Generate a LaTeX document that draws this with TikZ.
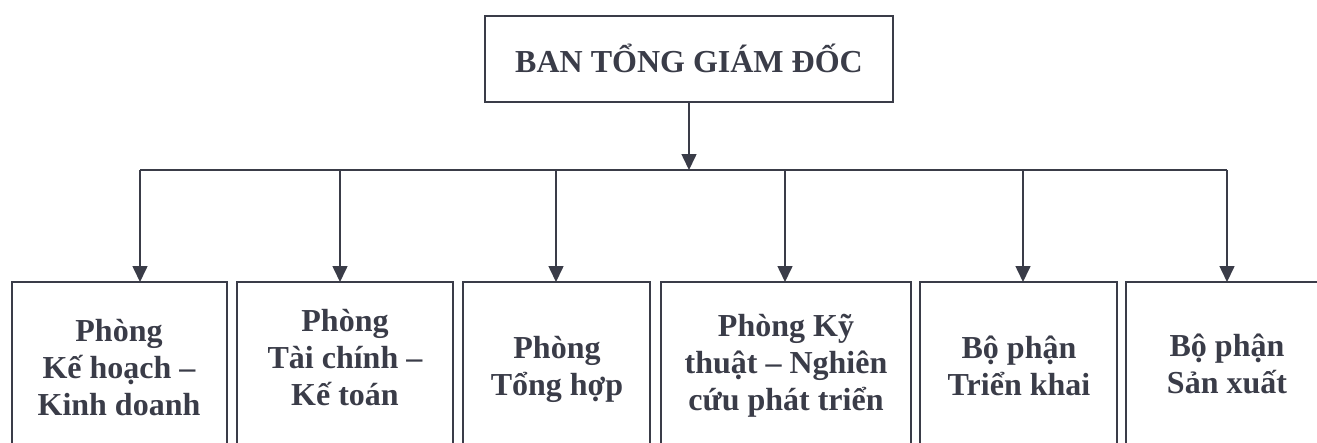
\documentclass[tikz,border=0pt]{standalone}
\usepackage{fontspec}
\setmainfont{Liberation Serif}
\usetikzlibrary{arrows.meta}
\definecolor{ink}{RGB}{58,60,72}
\begin{document}
\begin{tikzpicture}[x=1pt,y=-1pt,
  box/.style={draw=ink, line width=1.6pt, inner sep=0pt, outer sep=0pt},
  txt/.style={font=\bfseries\fontsize{32}{36.7}\selectfont, text=ink, align=center, inner sep=0pt},
  conn/.style={draw=ink, line width=1.6pt},
  arr/.style={conn, -{Triangle[width=15pt,length=16pt]}}]
\useasboundingbox (0,0) rectangle (1317,442);
% top box
\node[box, minimum width=408pt, minimum height=86pt, anchor=north west] (top) at (485,16) {};
\node[txt, anchor=base] (toptxt) at (689,72) {BAN TỔNG GIÁM ĐỐC};
% child boxes
\node[box, minimum width=215pt, minimum height=200pt, anchor=north west] (b1) at (12,282) {};
\node[box, minimum width=216pt, minimum height=200pt, anchor=north west] (b2) at (237,282) {};
\node[box, minimum width=187pt, minimum height=200pt, anchor=north west] (b3) at (463,282) {};
\node[box, minimum width=250pt, minimum height=200pt, anchor=north west] (b4) at (661,282) {};
\node[box, minimum width=197pt, minimum height=200pt, anchor=north west] (b5) at (920,282) {};
\node[box, minimum width=202pt, minimum height=200pt, anchor=north west] (b6) at (1126,282) {};
% texts (base = baseline of last line)
\node[txt, anchor=base] (t1) at (119,415) {Phòng\\Kế hoạch –\\Kinh doanh};
\node[txt, anchor=base] (t2) at (345,405) {Phòng\\Tài chính –\\Kế toán};
\node[txt, anchor=base] (t3) at (557,395) {Phòng\\Tổng hợp};
\node[txt, anchor=base] (t4) at (786,410) {Phòng Kỹ\\thuật – Nghiên\\cứu phát triển};
\node[txt, anchor=base] (t5) at (1019,395) {Bộ phận\\Triển khai};
\node[txt, anchor=base] (t6) at (1227,393) {Bộ phận\\Sản xuất};
% bus
\coordinate (bus) at (689,170);
\coordinate (j1) at (140,170);
\coordinate (j2) at (340,170);
\coordinate (j3) at (556,170);
\coordinate (j4) at (785,170);
\coordinate (j5) at (1023,170);
\coordinate (j6) at (1227,170);
\draw[arr] (top.south -| bus) -- (bus);
\draw[conn] (j1) -- (j6);
\draw[arr] (j1) -- (j1 |- b1.north);
\draw[arr] (j2) -- (j2 |- b2.north);
\draw[arr] (j3) -- (j3 |- b3.north);
\draw[arr] (j4) -- (j4 |- b4.north);
\draw[arr] (j5) -- (j5 |- b5.north);
\draw[arr] (j6) -- (j6 |- b6.north);
\end{tikzpicture}
\end{document}
